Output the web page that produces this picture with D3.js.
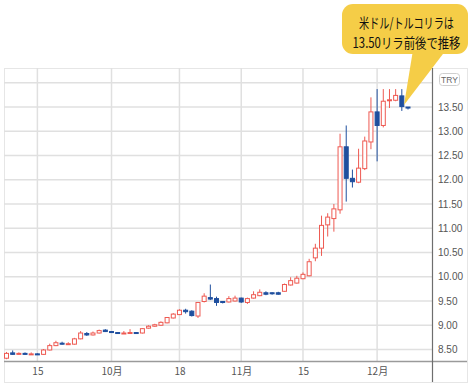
<!DOCTYPE html>
<html><head><meta charset="utf-8">
<script src="https://cdn.jsdelivr.net/npm/d3@7/dist/d3.min.js"></script>
<style>
html,body{margin:0;padding:0;background:#fff;}
svg{display:block;}
</style></head>
<body>
<svg id="chart" width="473" height="387"></svg>
<script>
const dates = ["2021-09-08","2021-09-09","2021-09-10","2021-09-13","2021-09-14","2021-09-15","2021-09-16","2021-09-17",
"2021-09-20","2021-09-21","2021-09-22","2021-09-23","2021-09-24","2021-09-27","2021-09-28","2021-09-29","2021-09-30",
"2021-10-01","2021-10-04","2021-10-05","2021-10-06","2021-10-07","2021-10-08","2021-10-11","2021-10-12","2021-10-13",
"2021-10-14","2021-10-15","2021-10-18","2021-10-19","2021-10-20","2021-10-21","2021-10-22","2021-10-25","2021-10-26",
"2021-10-27","2021-10-28","2021-10-29","2021-11-01","2021-11-02","2021-11-03","2021-11-04","2021-11-05","2021-11-08",
"2021-11-09","2021-11-10","2021-11-11","2021-11-12","2021-11-15","2021-11-16","2021-11-17","2021-11-18","2021-11-19",
"2021-11-22","2021-11-23","2021-11-24","2021-11-25","2021-11-26","2021-11-29","2021-11-30","2021-12-01","2021-12-02",
"2021-12-03","2021-12-06","2021-12-07","2021-12-08"];
const openV = [8.32,8.43,8.40,8.42,8.40,8.41,8.40,8.49,8.58,8.63,8.61,8.61,8.72,8.83,8.80,8.84,8.90,
8.87,8.85,8.83,8.84,8.85,8.84,8.94,8.98,9.00,9.05,9.15,9.22,9.31,9.29,9.19,9.49,9.57,9.55,
9.49,9.48,9.50,9.56,9.47,9.56,9.61,9.67,9.67,9.67,9.70,9.83,9.87,9.96,10.02,10.39,10.59,11.07,
11.20,11.38,12.68,12.03,11.95,12.23,12.78,13.40,13.12,13.63,13.64,13.73,13.50];
const highV = [8.45,8.48,8.44,8.44,8.44,8.42,8.51,8.62,8.68,8.66,8.65,8.74,8.88,8.86,8.87,8.91,8.92,
8.88,8.86,8.88,8.92,8.86,8.94,9.00,9.03,9.08,9.17,9.25,9.33,9.34,9.31,9.48,9.66,9.84,9.59,
9.50,9.60,9.61,9.57,9.57,9.70,9.74,9.70,9.68,9.69,9.86,9.99,10.02,10.09,10.37,10.68,11.26,11.31,
11.50,12.95,13.12,12.21,12.64,12.89,13.70,13.87,13.87,13.87,13.87,13.87,13.50];
const lowV = [8.30,8.39,8.39,8.39,8.39,8.39,8.39,8.48,8.57,8.60,8.60,8.60,8.71,8.78,8.79,8.83,8.86,
8.84,8.82,8.82,8.83,8.83,8.83,8.93,8.97,8.99,9.04,9.14,9.21,9.24,9.18,9.15,9.47,9.52,9.40,
9.45,9.47,9.49,9.46,9.44,9.55,9.60,9.62,9.63,9.63,9.69,9.82,9.86,9.95,10.01,10.32,10.43,10.83,
10.93,11.30,11.55,11.84,11.93,12.20,12.63,12.38,13.08,13.48,13.62,13.42,13.45];
const closeV = [8.42,8.40,8.42,8.40,8.41,8.40,8.49,8.58,8.64,8.61,8.62,8.72,8.84,8.80,8.84,8.89,8.87,
8.85,8.83,8.84,8.85,8.84,8.93,8.98,9.01,9.06,9.16,9.23,9.31,9.28,9.20,9.47,9.60,9.54,9.47,
9.47,9.55,9.56,9.48,9.55,9.63,9.68,9.64,9.65,9.64,9.84,9.92,9.97,10.05,10.31,10.59,11.06,11.23,
11.40,12.68,12.03,11.96,12.24,12.80,13.40,13.12,13.62,13.65,13.74,13.51,13.48];

const yTickValues = [8.5,9.0,9.5,10.0,10.5,11.0,11.5,12.0,12.5,13.0,13.5];
const yGridValues = [8.5,9.0,9.5,10.0,10.5,11.0,11.5,12.0,12.5,13.0,13.5,14.0];
const xTickDates = ["2021-09-15","2021-10-01","2021-10-18","2021-11-01","2021-11-15","2021-12-01"];
const xTickLabels = ["15","10月","18","11月","15","12月"];
const currencyLabel = "TRY";
const calloutLines = ["米ドル/トルコリラは","13.50リラ前後で推移"];

const candles = dates.map((d,i)=>({date:d,o:openV[i],h:highV[i],l:lowV[i],c:closeV[i]}));

const svg = d3.select("#chart");
const frame = {left:4, top:68, right:467, bottom:382, plotRight:432, axisY:361};

const x = d3.scalePoint().domain(dates).range([6.5, 408]);
const y = d3.scaleLinear().domain([8.5, 14]).range([349.5, 82.8]);

const RED = "#ee5a52", BLUE = "#1f4f9e", GRID = "#e0e0e0";

// outer frame
svg.append("rect").attr("x",frame.left+0.5).attr("y",frame.top+0.5)
  .attr("width",frame.right-frame.left).attr("height",frame.bottom-frame.top)
  .attr("fill","#fff").attr("stroke","#e6e6e6").attr("stroke-width",1);

// horizontal grid
svg.append("g").selectAll("line").data(yGridValues).join("line")
  .attr("x1",frame.left).attr("x2",frame.plotRight)
  .attr("y1",d=>y(d)).attr("y2",d=>y(d))
  .attr("stroke",GRID).attr("stroke-width",1.5);

// vertical grid
svg.append("g").selectAll("line").data(xTickDates).join("line")
  .attr("x1",d=>x(d)).attr("x2",d=>x(d))
  .attr("y1",frame.top).attr("y2",frame.axisY)
  .attr("stroke",GRID).attr("stroke-width",1.5);

// candles
const cg = svg.append("g");
const bw = 4;
cg.selectAll("line.wick").data(candles).join("line").attr("class","wick")
  .attr("x1",d=>x(d.date)).attr("x2",d=>x(d.date))
  .attr("y1",d=>y(d.h)).attr("y2",d=>y(d.l))
  .attr("stroke",d=>d.c>=d.o?RED:BLUE).attr("stroke-width",1);
cg.selectAll("rect.body").data(candles).join("rect").attr("class","body")
  .attr("x",d=>x(d.date)-bw/2).attr("width",bw)
  .attr("y",d=>y(Math.max(d.o,d.c)))
  .attr("height",d=>Math.max(1,Math.abs(y(d.o)-y(d.c))))
  .attr("fill",d=>d.c>=d.o?"#fff":BLUE)
  .attr("stroke",d=>d.c>=d.o?RED:BLUE).attr("stroke-width",1);

// x axis
const xAxis = d3.axisBottom(x).tickValues(xTickDates)
  .tickFormat(d=>xTickLabels[xTickDates.indexOf(d)]).tickSize(0).tickPadding(7);
const xg = svg.append("g").attr("transform",`translate(0,${frame.axisY})`).call(xAxis);
xg.select(".domain").remove();
xg.selectAll("text").attr("fill","#555").style("font-family","'Noto Sans CJK JP','Liberation Sans',sans-serif").style("font-size","10px");
svg.append("line").attr("x1",frame.left).attr("x2",frame.right)
  .attr("y1",frame.axisY+0.5).attr("y2",frame.axisY+0.5)
  .attr("stroke","#9a9a9a").attr("stroke-width",1.5);

// y axis
const yAxis = d3.axisRight(y).tickValues(yTickValues).tickFormat(d3.format(".2f")).tickSize(0).tickPadding(6);
const yg = svg.append("g").attr("transform",`translate(${frame.plotRight},0)`).call(yAxis);
yg.select(".domain").remove();
yg.selectAll("text").attr("fill","#555").style("font-family","'Liberation Sans',Arial,sans-serif").style("font-size","10px");
svg.append("line").attr("x1",frame.plotRight+0.5).attr("x2",frame.plotRight+0.5)
  .attr("y1",frame.top).attr("y2",frame.bottom)
  .attr("stroke","#6e6e6e").attr("stroke-width",1.2);

// TRY badge
svg.append("rect").attr("x",439.5).attr("y",73.5).attr("width",20).attr("height",12).attr("rx",3)
  .attr("fill","#fff").attr("stroke","#cfcfcf");
svg.append("text").attr("x",449.5).attr("y",79.8).attr("text-anchor","middle").attr("dy","0.35em")
  .attr("fill","#666").style("font-family","'Liberation Sans',Arial,sans-serif").style("font-size","8.5px")
  .text(currencyLabel);

// callout
const YEL = "#f5cd47";
svg.append("path").attr("d","M413,50 L446,50 L404,105 Z").attr("fill",YEL);
svg.append("rect").attr("x",342).attr("y",4).attr("width",126).attr("height",50).attr("rx",11).attr("fill",YEL);
const ct = svg.append("text")
  .attr("text-anchor","middle")
  .attr("fill","#111").style("font-family","'Noto Sans CJK JP',sans-serif").style("font-size","14px");
const t1 = ct.append("tspan").attr("x",0).attr("y",22.5).attr("dy","0.36em").text(calloutLines[0]);
const t2 = ct.append("tspan").attr("x",0).attr("y",43).attr("dy","0.36em").text(calloutLines[1]);
const len2 = t2.node().getComputedTextLength();
const s = 108/len2;
t1.attr("textLength",95/s).attr("lengthAdjust","spacingAndGlyphs");
ct.attr("transform",`translate(406.5,0) scale(${s},1)`);
</script>
</body></html>
